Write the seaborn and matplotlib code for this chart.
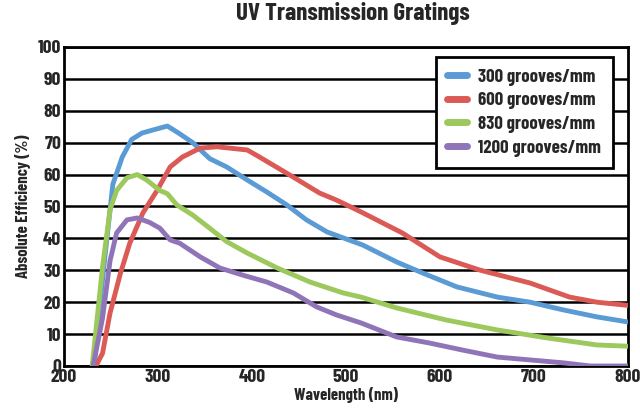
import matplotlib
matplotlib.use("Agg")
import matplotlib.pyplot as plt
import seaborn as sns
import pandas as pd

sns.set_style("white")
plt.rcParams['font.family'] = ['Barlow Condensed', 'DejaVu Sans']
plt.rcParams['font.weight'] = 700

series_names = ["300 grooves/mm", "600 grooves/mm", "830 grooves/mm", "1200 grooves/mm"]
colors = ["#5B9BD5", "#DB5A55", "#9CC85C", "#9074B8"]

wl_300 = [232, 242, 252, 262, 272, 283, 295, 310, 322, 337, 355, 373, 395, 416, 437, 458, 480,
          518, 554, 582, 618, 661, 696, 731, 767, 800]
eff_300 = [0, 30, 57, 65.5, 71, 73, 74, 75.2, 73, 70, 65, 62.4, 58.3, 54.5, 50.5, 45.8, 42,
           37.9, 32.6, 29.1, 24.8, 21.6, 20, 17.6, 15.4, 13.8]

wl_600 = [234, 241, 249, 260, 270, 284, 299, 313, 326, 345, 363, 395, 408, 444, 472, 490,
          516, 560, 600, 642, 696, 738, 767, 800]
eff_600 = [0, 4, 16.6, 29, 38.5, 48, 55, 62.4, 65.5, 68.3, 68.7, 67.7, 65.5, 59.2, 54.2, 52,
           48.3, 41.7, 34.2, 30.1, 26, 21.6, 20, 19]

wl_830 = [230, 241, 249, 256, 267, 278, 288, 302, 310, 320, 337, 355, 373, 395, 427, 462,
          497, 516, 554, 607, 661, 714, 767, 800]
eff_830 = [0, 31, 49, 55, 59, 60, 58.3, 55, 54, 50.5, 47.3, 43.2, 39, 35.4, 30.7, 26.3,
           22.9, 21.6, 18.2, 14.4, 11.3, 8.8, 6.6, 6.2]

wl_1200 = [231, 241, 249, 256, 267, 278, 291, 302, 313, 323, 345, 366, 390, 416, 444, 469,
           490, 516, 554, 589, 624, 661, 696, 731, 760, 800]
eff_1200 = [0, 15, 33, 41.7, 45.8, 46.4, 45, 43.2, 39.5, 38.5, 34.2, 30.7, 28.5, 26.3, 22.9,
            18.5, 16, 13.5, 9.1, 7.2, 5, 2.8, 1.9, 1, 0, 0]

xticks = [200, 300, 400, 500, 600, 700, 800]
yticks = list(range(0, 101, 10))

frames = []
for name, xs, ys in zip(series_names, [wl_300, wl_600, wl_830, wl_1200],
                        [eff_300, eff_600, eff_830, eff_1200]):
    frames.append(pd.DataFrame({"Wavelength": xs, "Efficiency": ys, "Grating": name}))
df = pd.concat(frames, ignore_index=True)

fig = plt.figure(figsize=(6.4, 4.19), dpi=100)
ax = fig.add_axes([0.1, 0.1265, 0.881, 0.7615])

for v in yticks:
    ax.axhline(v, color="black", lw=1.8, zorder=1)

sns.lineplot(data=df, x="Wavelength", y="Efficiency", hue="Grating", hue_order=series_names,
             palette=colors, lw=3.5, ax=ax, sort=False, estimator=None, zorder=3)

ax.set_xlim(200, 800)
ax.set_ylim(0, 100)
ax.set_xticks(xticks)
ax.set_yticks(yticks)
ax.tick_params(axis="both", length=0, labelsize=14, pad=2)
ax.tick_params(axis="x", pad=2)
for lab in ax.get_xticklabels() + ax.get_yticklabels():
    lab.set_fontweight(700)
for s in ax.spines.values():
    s.set_color("black")
    s.set_linewidth(2)

ax.set_xlabel("Wavelength (nm)", fontsize=12, fontweight=700, labelpad=1)
ax.set_ylabel("Absolute Efficiency (%)", fontsize=12, fontweight=700, labelpad=5)
fig.suptitle("UV Transmission Gratings", fontsize=18, fontweight=700, x=0.552, y=0.995)

leg = ax.legend(loc="upper right", bbox_to_anchor=(0.973, 0.969), borderaxespad=0,
                frameon=True, fancybox=False, fontsize=13.5, handlelength=1.05, borderpad=0.62,
                labelspacing=0.35, handletextpad=0.6, framealpha=1)
leg.get_frame().set_edgecolor("black")
leg.get_frame().set_linewidth(2)
leg.set_zorder(5)
for t in leg.get_texts():
    t.set_fontweight(700)
for h in leg.get_lines():
    h.set_linewidth(5)

fig.savefig("out.png", dpi=100)
